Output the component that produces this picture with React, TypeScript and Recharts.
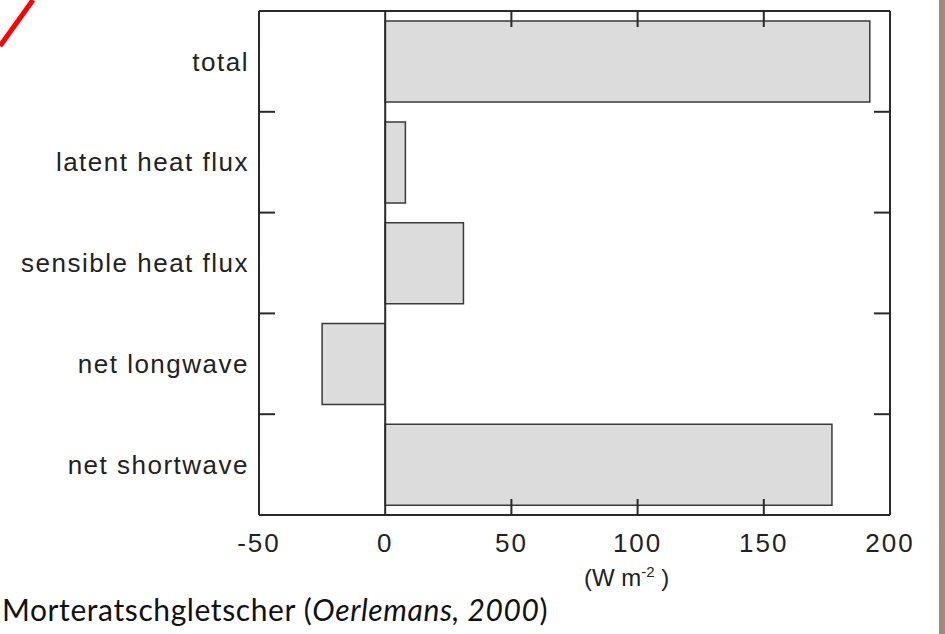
import { BarChart, Bar, XAxis, YAxis, ReferenceLine } from 'recharts';

const categories = ['total', 'latent heat flux', 'sensible heat flux', 'net longwave', 'net shortwave'];
const fluxValues = [192, 8, 31, -25, 177];
const xTicks = [-50, 0, 50, 100, 150, 200];

const data = categories.map((name, i) => ({ name, value: fluxValues[i] }));

const FONT = '"Liberation Sans", Arial, Helvetica, sans-serif';
const INK = '#2a2a2a';
const TICK_LEN = 16;
const PLOT_TOP = 11;
const PLOT_BOTTOM = 515;
const BAND = (PLOT_BOTTOM - PLOT_TOP) / categories.length;

const isEdge = (v: number) => v === xTicks[0] || v === xTicks[xTicks.length - 1];

// bottom tick label plus inward tick marks on the bottom and top frame
function BottomTick(props: any) {
  const { x, y, payload } = props;
  const inner = !isEdge(payload.value) && payload.value !== 0;
  return (
    <g>
      {inner && <line x1={x} x2={x} y1={y} y2={y - TICK_LEN} stroke={INK} strokeWidth={2} />}
      {inner && <line x1={x} x2={x} y1={PLOT_TOP} y2={PLOT_TOP + TICK_LEN} stroke={INK} strokeWidth={2} />}
      <text x={x} y={y + 37} textAnchor="middle" fontFamily={FONT} fontSize={26} letterSpacing={2} fill="#222">
        {payload.value}
      </text>
    </g>
  );
}

function LeftTick(props: any) {
  const { x, y, payload, index } = props;
  const half = payload.offset || BAND / 2;
  return (
    <g>
      {index > 0 && (
        <line x1={x} x2={x + TICK_LEN} y1={y - half} y2={y - half} stroke={INK} strokeWidth={2} />
      )}
      <text x={x - 10} y={y} dy="0.35em" textAnchor="end" fontFamily={FONT} fontSize={26} letterSpacing={1.5} fill="#222">
        {payload.value}
      </text>
    </g>
  );
}

function RightTick(props: any) {
  const { x, y, payload, index } = props;
  const half = payload.offset || BAND / 2;
  if (index === 0) return <g />;
  return <line x1={x} x2={x - TICK_LEN} y1={y - half} y2={y - half} stroke={INK} strokeWidth={2} />;
}

export default function App() {
  return (
    <div style={{ position: 'relative', width: 945, height: 634, overflow: 'hidden', background: '#fff' }}>
      <style>{'body{margin:0}'}</style>
      <BarChart
        width={945}
        height={634}
        layout="vertical"
        data={data}
        margin={{ top: PLOT_TOP - 1, right: 54, bottom: 59, left: 0 }}
        barCategoryGap="10%"
      >
        <XAxis
          xAxisId="bottom"
          type="number"
          domain={[-50, 200]}
          ticks={xTicks}
          orientation="bottom"
          height={60}
          tickSize={0}
          tickMargin={0}
          tickLine={false}
          axisLine={{ stroke: INK, strokeWidth: 2 }}
          tick={<BottomTick />}
          interval={0}
        />
        <XAxis
          xAxisId="top"
          type="number"
          domain={[-50, 200]}
          orientation="top"
          height={1}
          tick={false}
          tickLine={false}
          axisLine={{ stroke: INK, strokeWidth: 2 }}
        />
        <YAxis
          yAxisId="left"
          type="category"
          dataKey="name"
          width={259}
          tickSize={0}
          tickMargin={0}
          tickLine={false}
          axisLine={{ stroke: INK, strokeWidth: 2 }}
          tick={<LeftTick />}
          interval={0}
        />
        <YAxis
          yAxisId="right"
          type="category"
          dataKey="name"
          orientation="right"
          width={1}
          tickSize={0}
          tickMargin={0}
          tickLine={false}
          axisLine={{ stroke: INK, strokeWidth: 2 }}
          tick={<RightTick />}
          interval={0}
        />
        <ReferenceLine xAxisId="bottom" yAxisId="left" x={0} stroke={INK} strokeWidth={2} />
        <Bar
          xAxisId="bottom"
          yAxisId="left"
          dataKey="value"
          fill="#dcdcdc"
          stroke="#3a3a3a"
          strokeWidth={1.5}
          isAnimationActive={false}
        />
      </BarChart>

      <div
        style={{
          position: 'absolute',
          left: 584,
          top: 563,
          fontFamily: FONT,
          fontSize: 24,
          color: '#222',
          whiteSpace: 'nowrap',
        }}
      >
        (W m<sup style={{ fontSize: 15 }}>-2</sup> )
      </div>

      <div
        style={{
          position: 'absolute',
          left: 2,
          top: 591,
          fontFamily: 'Lato, "Open Sans", sans-serif',
          fontSize: 30,
          letterSpacing: 0.6,
          color: '#111',
          whiteSpace: 'nowrap',
        }}
      >
        Morteratschgletscher (<i>Oerlemans, 2000</i>)
      </div>

      <svg width={945} height={634} style={{ position: 'absolute', left: 0, top: 0, pointerEvents: 'none' }}>
        <line x1={0} y1={46} x2={33} y2={0} stroke="#ff0000" strokeWidth={5} />
        <rect x={939} y={0} width={6} height={634} fill="#a08c7e" />
      </svg>
    </div>
  );
}
